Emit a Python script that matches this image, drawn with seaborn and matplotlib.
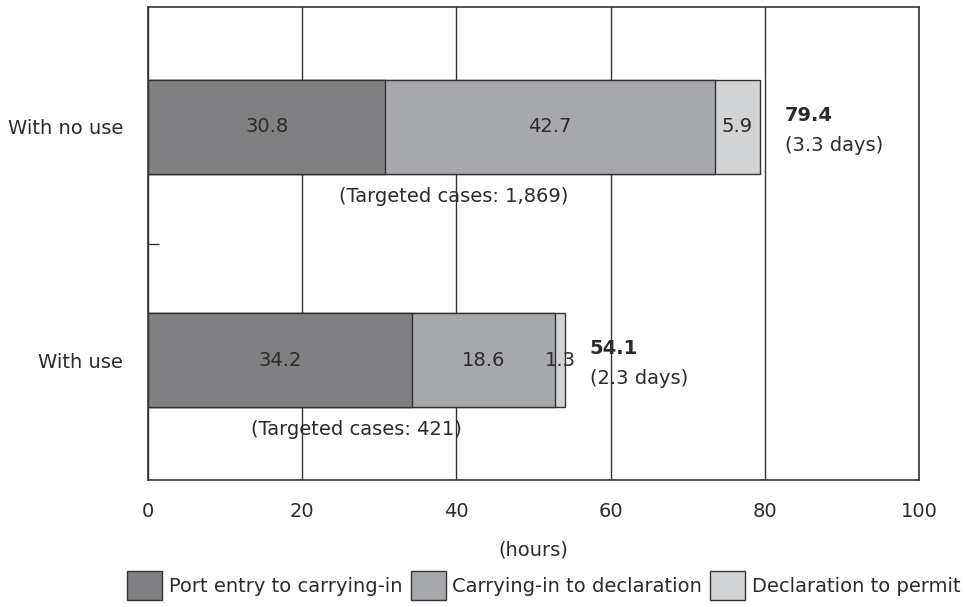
import matplotlib
matplotlib.use("Agg")
import numpy as np
import pandas as pd
import seaborn as sns
import matplotlib.pyplot as plt
from matplotlib.patches import Patch

# --- data ---
groups = ["With no use", "With use"]
stages = ["Port entry to carrying-in", "Carrying-in to declaration", "Declaration to permit"]
port_to_carry = [30.8, 34.2]
carry_to_decl = [42.7, 18.6]
decl_to_permit = [5.9, 1.3]
totals = [79.4, 54.1]
days = ["(3.3 days)", "(2.3 days)"]
cases = ["(Targeted cases: 1,869)", "(Targeted cases: 421)"]

colors = ["#808083", "#a7a8ab", "#d2d3d5"]
ink = "#2b2b2b"

sns.set_style("white")
plt.rcParams["font.family"] = ["DejaVu Sans"]
plt.rcParams["font.size"] = 14

df = pd.DataFrame({
    "group": groups,
    "s1": port_to_carry,
    "s2": carry_to_decl,
    "s3": decl_to_permit,
})
df["c1"] = df["s1"]
df["c2"] = df["s1"] + df["s2"]
df["c3"] = df["c2"] + df["s3"]

fig = plt.figure(figsize=(9.65, 6.07), dpi=100)
ax = fig.add_axes([148 / 965, 1 - 480 / 607, (919 - 148) / 965, (480 - 7) / 607])

# stacked bars: draw cumulative widths from the longest down
for col, color in zip(["c3", "c2", "c1"], colors[::-1]):
    sns.barplot(data=df, x=col, y="group", orient="h", color=color,
                width=0.4, edgecolor="#333333", linewidth=1.0,
                saturation=1, ax=ax, zorder=2)

ax.set_xlim(0, 100)
ax.set_ylim(1.515, -0.515)
ax.set_xticks([0, 20, 40, 60, 80, 100])
ax.set_axisbelow(True)   # grid at zorder 0.5, under the bars
ax.grid(axis="x", color="#333333", linewidth=1.0)
ax.grid(axis="y", visible=False)
for s in ax.spines.values():
    s.set_visible(True)
    s.set_color("#333333")
    s.set_linewidth(1.2)

ax.tick_params(axis="x", length=0, pad=16, labelcolor=ink, labelsize=14)
ax.tick_params(axis="y", which="major", length=0, pad=18, labelcolor=ink, labelsize=14)
ax.set_yticks([0.5], minor=True)
ax.tick_params(axis="y", which="minor", left=True, direction="in", length=8,
               width=1, color="#333333")
ax.set_ylabel("")
ax.set_xlabel("(hours)", fontsize=14, color=ink, labelpad=14)

# segment labels
for i in range(len(groups)):
    starts = [0, df["c1"][i], df["c2"][i]]
    vals = [df["s1"][i], df["s2"][i], df["s3"][i]]
    for st, v in zip(starts, vals):
        ax.text(st + v / 2, i, f"{v:.1f}", ha="center", va="center",
                fontsize=14, color=ink, zorder=4)
    # totals and case counts sit under the grid lines, as in the original
    ax.text(totals[i] + 3.2, i - 0.05, f"{totals[i]:.1f}", ha="left", va="center",
            fontsize=14, fontweight="bold", color=ink, zorder=0.3)
    ax.text(totals[i] + 3.2, i + 0.08, days[i], ha="left", va="center",
            fontsize=14, color=ink, zorder=0.3)
    ax.text(totals[i] / 2, i + 0.30, cases[i], ha="center", va="center",
            fontsize=14, color=ink, zorder=0.3)

handles = [Patch(facecolor=c, edgecolor="#333333", linewidth=1.0) for c in colors]
fig.legend(handles, stages, loc="lower center", bbox_to_anchor=(544 / 965, -0.004),
           ncol=3, frameon=False, fontsize=14, handlelength=1.8, handleheight=1.9,
           handletextpad=0.35, columnspacing=0.42, labelcolor=ink, borderaxespad=0.1)

fig.savefig("out.png", dpi=100)
